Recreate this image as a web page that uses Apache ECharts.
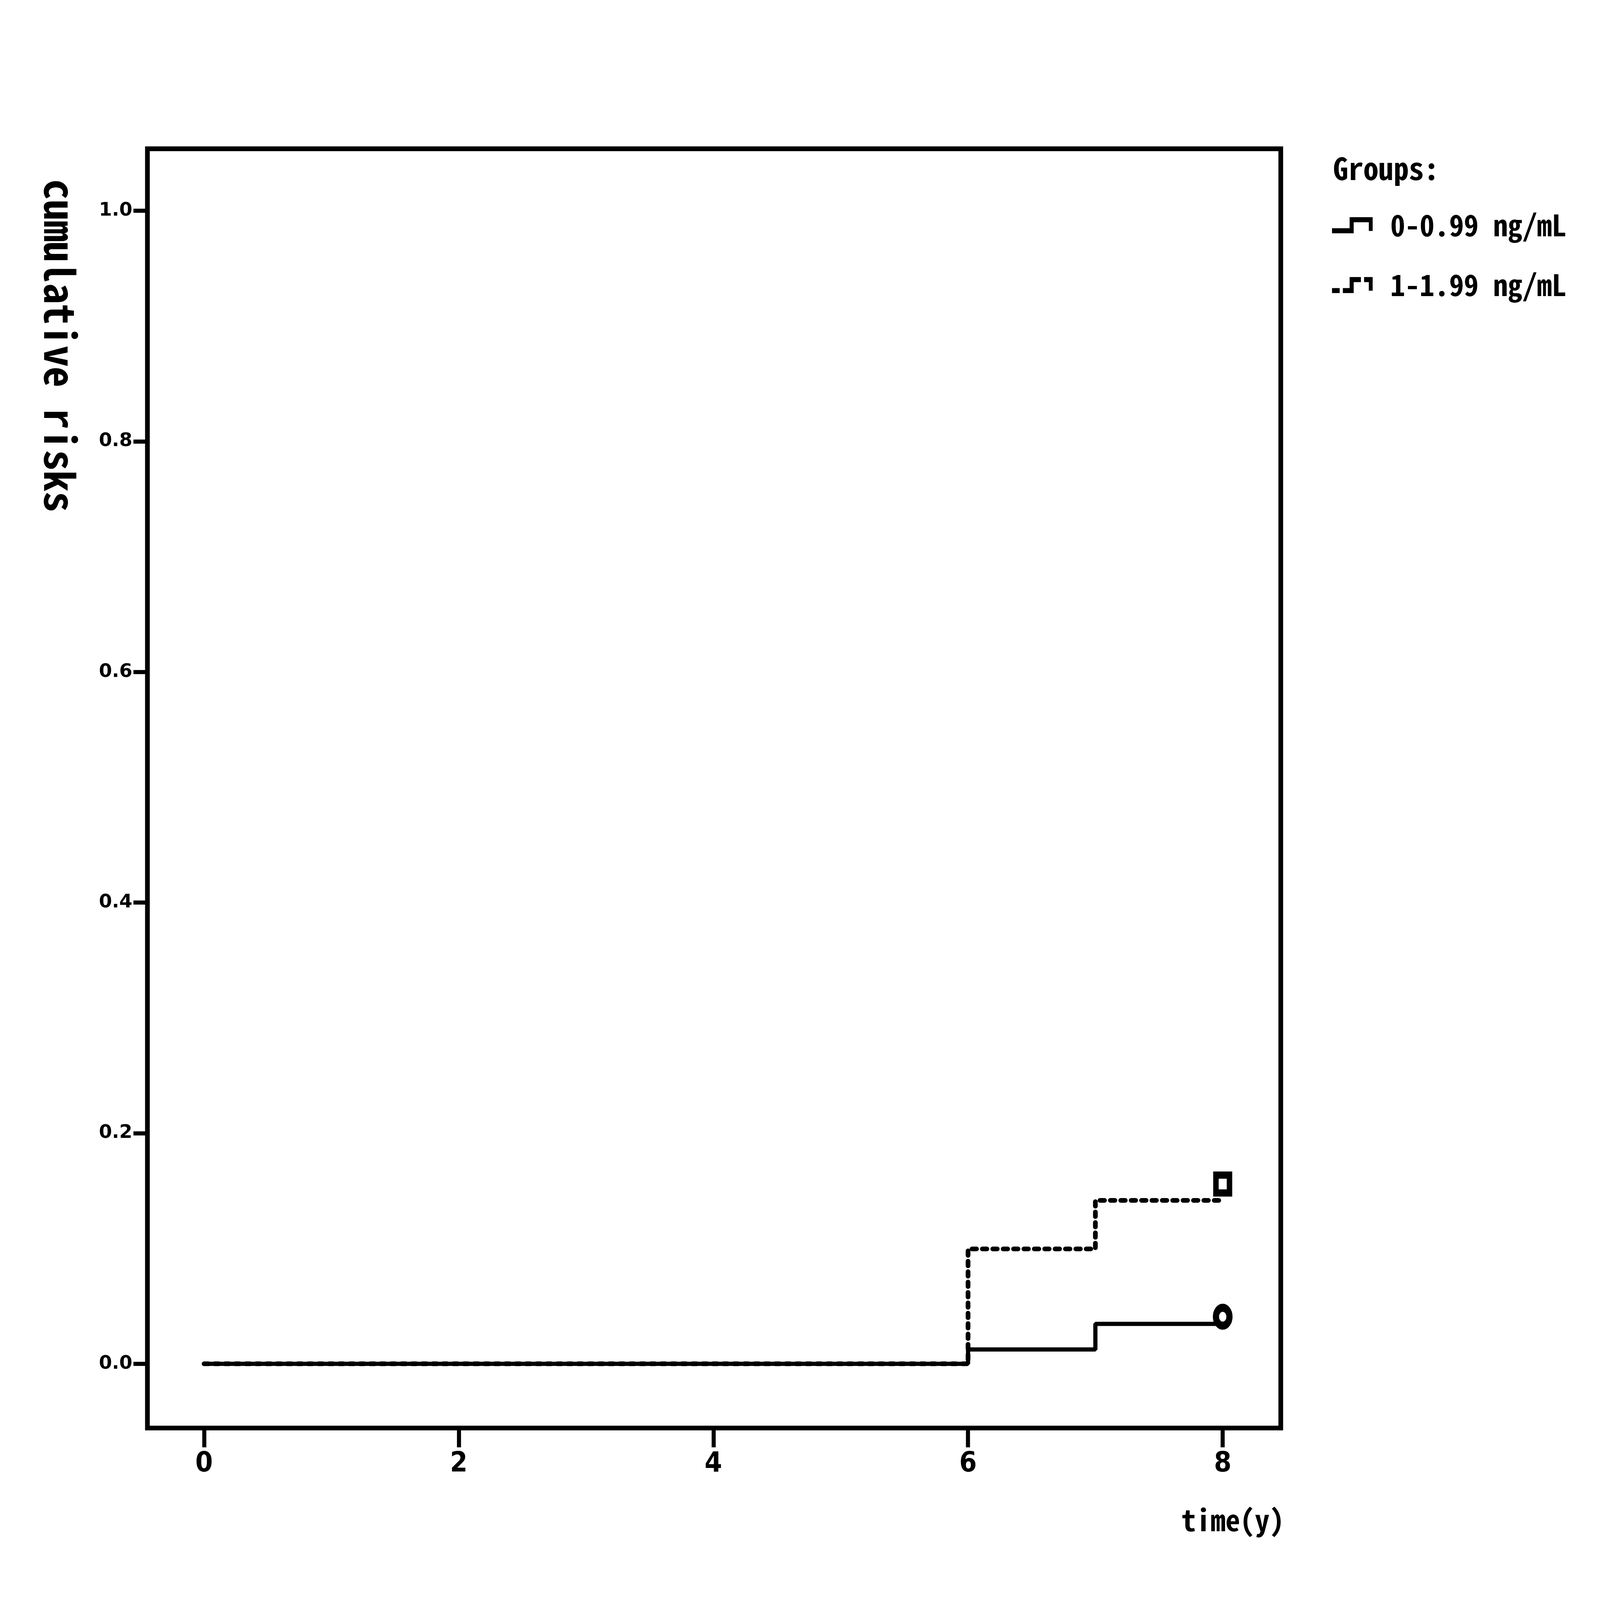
<!DOCTYPE html>
<html>
<head>
<meta charset="utf-8">
<script src="https://cdn.jsdelivr.net/npm/echarts@6/dist/echarts.min.js"></script>
<style>
  html, body { margin: 0; padding: 0; background: #fff; overflow: hidden; }
</style>
</head>
<body>
<div id="chart"></div>
<script>
// tick values
var xTicks = [0, 2, 4, 6, 8];
var yTicks = [0, 0.2, 0.4, 0.6, 0.8, 1.0];

// groups and step curves (time, cumulative risk)
var groupNames = ["0-0.99 ng/mL", "1-1.99 ng/mL"];
var lowGroup = [[0, 0], [6, 0.0124], [7, 0.0346], [8, 0.0346]];
var midGroup = [[0, 0], [6, 0.0996], [7, 0.1417], [8, 0.1417]];

// censored marks at end of follow-up
var lowCensored = [[8, 0.0408]];
var midCensored = [[8, 0.1559]];

// layout was measured on a 7087 x 5377 picture; the window we get may be smaller,
// so every horizontal size goes through X() and every vertical one through Y()
var W = 7087, H = 5377;
var sx = window.innerWidth / W;
var sy = window.innerHeight / H;
function X(v) {
  return v * sx;
}
function Y(v) {
  return v * sy;
}
function L(v) {
  return (v * (sx + sy)) / 2;
}

var dom = document.getElementById("chart");
dom.style.width = window.innerWidth + "px";
dom.style.height = window.innerHeight + "px";

var monoFont = "'Noto Sans Mono CJK SC', 'Noto Sans Mono CJK JP', 'Liberation Mono', monospace";

// legend icons: little step glyphs, solid and broken
var solidIcon = "path://M0 39 L96 39 L96 56 L0 56 Z M78 2 L96 2 L96 56 L78 56 Z " +
  "M78 2 L180 2 L180 19 L78 19 Z M163 2 L180 2 L180 48 L163 48 Z";
var dashIcon = "path://M0 39 L34 39 L34 56 L0 56 Z M48 39 L96 39 L96 56 L48 56 Z " +
  "M78 10 L96 10 L96 50 L78 50 Z M78 2 L128 2 L128 19 L78 19 Z " +
  "M142 2 L180 2 L180 19 L142 19 Z M163 2 L180 2 L180 48 L163 48 Z";

var chart = echarts.init(dom);

var option = {
  backgroundColor: "#fff",
  animation: false,
  grid: {
    left: X(653),
    top: Y(500),
    right: X(1414),
    bottom: Y(578),
    show: true,
    borderColor: "#000",
    borderWidth: L(18),
    backgroundColor: "transparent",
  },
  xAxis: {
    type: "value",
    min: -0.445,
    max: 8.456,
    axisLine: { show: false, onZero: false },
    splitLine: { show: false },
    axisTick: {
      show: true,
      customValues: xTicks,
      length: Y(65),
      lineStyle: { color: "#000", width: X(18) },
    },
    axisLabel: {
      customValues: xTicks,
      margin: Y(74),
      color: "#000",
      fontSize: L(107),
      fontWeight: "bold",
      fontFamily: "'Liberation Sans Narrow', 'DejaVu Sans Condensed', sans-serif",
    },
  },
  yAxis: {
    type: "value",
    min: -0.0557,
    max: 1.0537,
    axisLine: { show: false, onZero: false },
    splitLine: { show: false },
    axisTick: {
      show: true,
      customValues: yTicks,
      length: X(62),
      lineStyle: { color: "#000", width: Y(14) },
    },
    axisLabel: {
      customValues: yTicks,
      margin: X(67),
      color: "#000",
      fontSize: L(72),
      fontWeight: "bold",
      fontFamily: "'DejaVu Sans', sans-serif",
      formatter: function (v) {
        return v.toFixed(1);
      },
    },
  },
  legend: {
    orient: "vertical",
    left: X(5900),
    top: Y(687),
    padding: 0,
    itemWidth: X(180),
    itemHeight: Y(54),
    itemGap: Y(61),
    symbolKeepAspect: false,
    data: [
      { name: groupNames[0], icon: solidIcon },
      { name: groupNames[1], icon: dashIcon },
    ],
    itemStyle: { color: "#000", borderWidth: 0 },
    textStyle: {
      color: "#000",
      fontSize: X(130),
      lineHeight: Y(140),
      fontWeight: "bold",
      fontFamily: monoFont,
      padding: [0, 0, 0, X(70)],
    },
  },
  graphic: [
    {
      type: "text",
      x: X(265),
      y: Y(1162),
      rotation: -Math.PI / 2,
      style: {
        text: "cumulative risks",
        fill: "#000",
        fontSize: Y(140),
        fontWeight: "bold",
        fontFamily: monoFont,
        align: "center",
        verticalAlign: "middle",
      },
    },
    {
      type: "text",
      x: X(5688),
      y: Y(5109),
      style: {
        text: "time(y)",
        fill: "#000",
        fontSize: X(130),
        fontWeight: "bold",
        fontFamily: monoFont,
        align: "right",
        verticalAlign: "middle",
      },
    },
    {
      type: "text",
      x: X(5905),
      y: Y(566),
      style: {
        text: "Groups:",
        fill: "#000",
        fontSize: X(134),
        fontWeight: "bold",
        fontFamily: monoFont,
        align: "left",
        verticalAlign: "middle",
      },
    },
  ],
  series: [
    {
      name: groupNames[0],
      type: "line",
      step: "end",
      data: lowGroup,
      symbol: "none",
      color: "#000",
      lineStyle: { color: "#000", width: L(16) },
    },
    {
      name: groupNames[1],
      type: "line",
      step: "end",
      data: midGroup,
      symbol: "none",
      color: "#000",
      lineStyle: { color: "#000", width: L(18), type: [X(20), X(26)], cap: "round" },
    },
    {
      name: "censored low",
      type: "scatter",
      data: lowCensored,
      symbol: "circle",
      symbolSize: [X(60), Y(60)],
      itemStyle: { color: "#fff", borderColor: "#000", borderWidth: L(27), opacity: 1 },
    },
    {
      name: "censored mid",
      type: "scatter",
      data: midCensored,
      symbol: "rect",
      symbolSize: [X(60), Y(60)],
      itemStyle: { color: "#fff", borderColor: "#000", borderWidth: L(24), opacity: 1 },
    },
  ],
};

chart.setOption(option);
</script>
</body>
</html>
